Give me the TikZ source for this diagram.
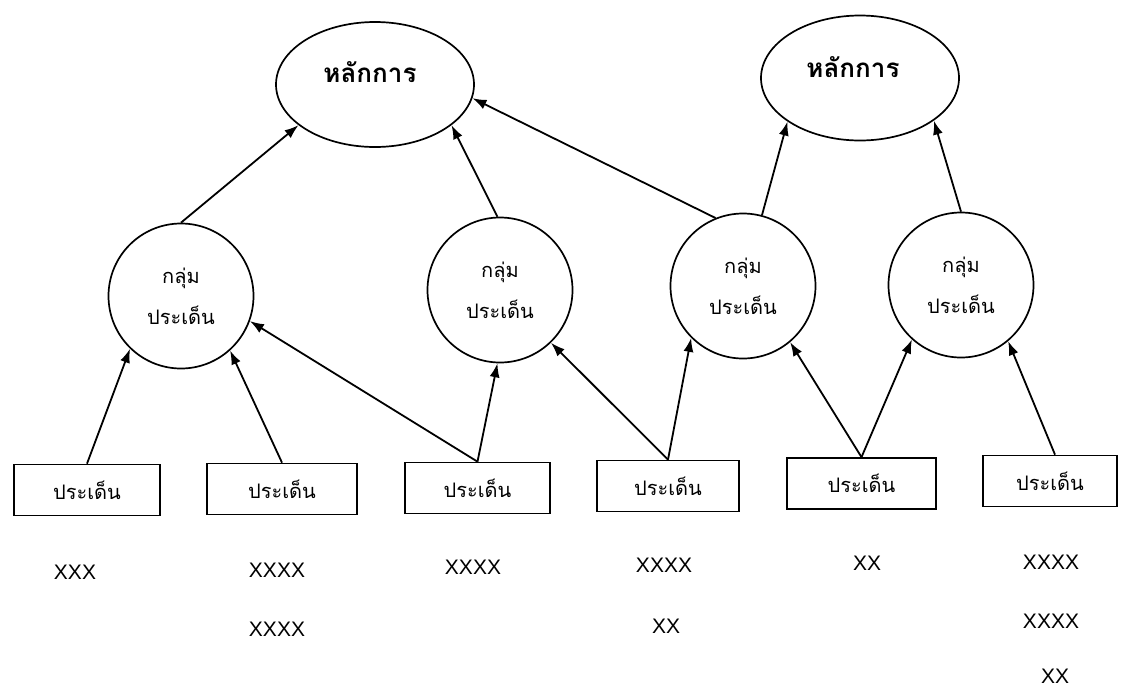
\documentclass[tikz,border=0pt]{standalone}
\usepackage{fontspec}
\setmainfont{Liberation Sans}
\newfontfamily\thaifont[Script=Thai]{Loma}
\usetikzlibrary{shapes.geometric,arrows.meta}
\tikzset{
  conn/.style={line width=1.8pt, -{Latex[length=14pt,width=10pt]}},
  grp/.style={circle, draw, line width=1.7pt, minimum size=145pt, inner sep=0pt,
              align=center, font=\thaifont\fontsize{20}{41}\selectfont},
  princ/.style={ellipse, draw, line width=1.7pt, minimum width=198pt, minimum height=125pt, inner sep=0pt},
  ptext/.style={font=\thaifont\bfseries\fontsize{26}{30}\selectfont},
  issue/.style={rectangle, draw, line width=1.7pt, minimum height=51pt, inner sep=0pt,
                font=\thaifont\fontsize{20}{24}\selectfont},
  cnt/.style={font=\fontsize{21}{24}\selectfont}
}
\begin{document}
\begin{tikzpicture}[x=1pt,y=-1pt]
\useasboundingbox (0,0) rectangle (1127,689);
% principles
\node[princ] (eL) at (375,84.5) {};
\node[ptext] (tL) at (370,72) {หลักการ};
\node[princ] (eR) at (860,78) {};
\node[ptext] (tR) at (853,67) {หลักการ};
% groups
\node[grp] (c1) at (181,296) {กลุ่ม\\ประเด็น};
\node[grp] (c2) at (500,290) {กลุ่ม\\ประเด็น};
\node[grp] (c3) at (743,286) {กลุ่ม\\ประเด็น};
\node[grp] (c4) at (961,285) {กลุ่ม\\ประเด็น};
% issues
\node[issue, minimum width=146pt] (b1) at (87,490) {ประเด็น};
\node[issue, minimum width=150pt] (b2) at (282,489) {ประเด็น};
\node[issue, minimum width=145pt] (b3) at (477.5,488) {ประเด็น};
\node[issue, minimum width=142pt] (b4) at (668,486) {ประเด็น};
\node[issue, minimum width=149pt] (b5) at (861.5,483.5) {ประเด็น};
\node[issue, minimum width=134pt] (b6) at (1050,481) {ประเด็น};
% counts
\node[cnt] (x1) at (75,572) {XXX};
\node[cnt] (x2a) at (277,570) {XXXX};
\node[cnt] (x2b) at (277,629) {XXXX};
\node[cnt] (x3) at (473,567) {XXXX};
\node[cnt] (x4a) at (664,565) {XXXX};
\node[cnt] (x4b) at (666,626) {XX};
\node[cnt] (x5) at (867,563) {XX};
\node[cnt] (x6a) at (1051,562) {XXXX};
\node[cnt] (x6b) at (1051,621) {XXXX};
\node[cnt] (x6c) at (1055,676) {XX};
% connectors issues -> groups
\draw[conn] (b1.north) -- (c1.226);
\draw[conn] (b2.north) -- (c1.312);
\draw[conn] (b3.north) -- (c1.340);
\draw[conn] (b3.north) -- (c2.268);
\draw[conn] (b4.north) -- (c2.314);
\draw[conn] (b4.north) -- (c3.225);
\draw[conn] (b5.north) -- (c3.310);
\draw[conn] (b5.north) -- (c4.228);
\draw[conn] ([xshift=5pt]b6.north) -- (c4.310);
% groups -> principles
\draw[conn] (c1.90) -- (eL.208.6);
\draw[conn] (c2.92) -- (eL.332.6);
\draw[conn] (c3.112) -- (eL.352);
\draw[conn] (c3.75) -- (eR.211.4);
\draw[conn] (c4.90) -- (eR.330);
\end{tikzpicture}
\end{document}
